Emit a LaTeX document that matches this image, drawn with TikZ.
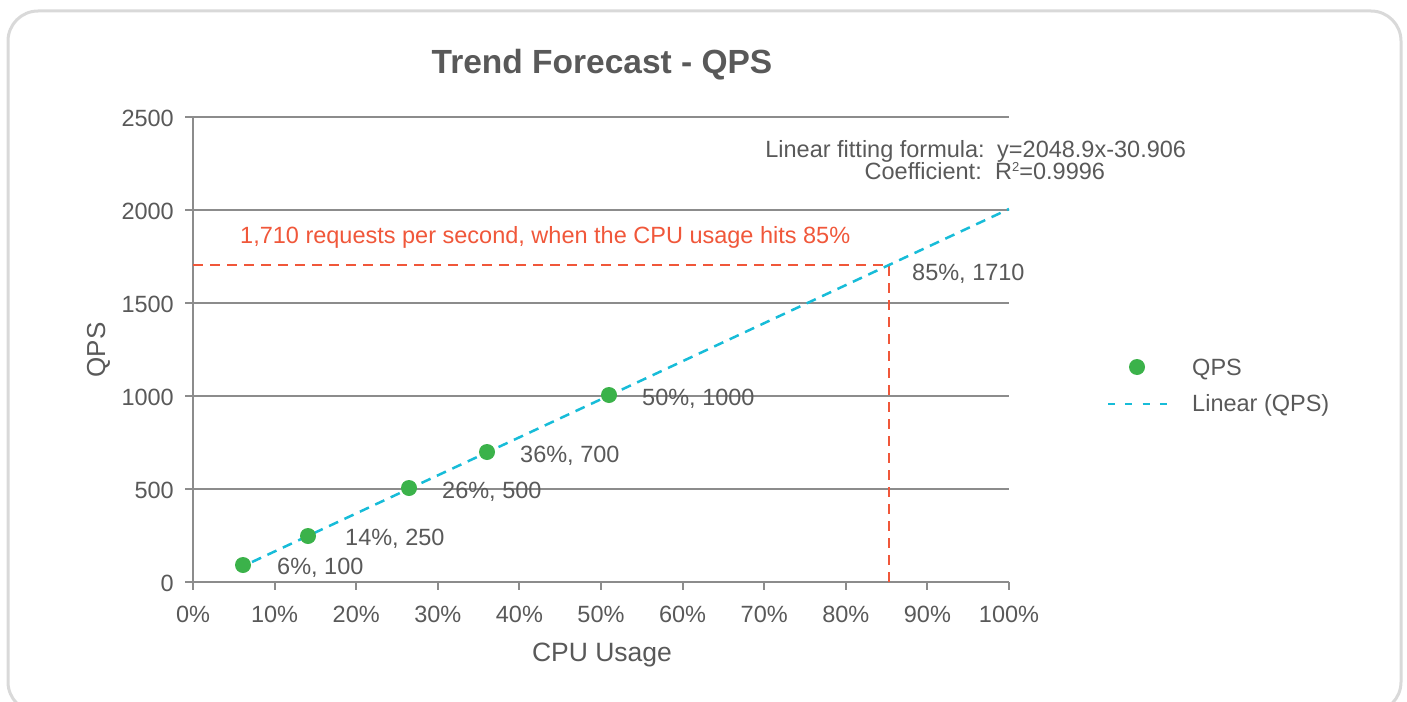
\documentclass[tikz,border=0pt]{standalone}
\usepackage{fontspec}
\setmainfont{Liberation Sans}
\definecolor{textgray}{HTML}{595959}
\definecolor{gridgray}{HTML}{8C8C8C}
\definecolor{framegray}{HTML}{D9D9D9}
\definecolor{dotgreen}{HTML}{3BB24A}
\definecolor{trendcyan}{HTML}{17BCD8}
\definecolor{guidered}{HTML}{F0573A}
\newcommand{\supdigit}[1]{\raisebox{7.5pt}{\fontsize{13}{13}\selectfont #1}}
\begin{document}
\begin{tikzpicture}[x=1pt,y=-1pt,
  txt/.style={text=textgray, font=\fontsize{23.5}{28}\selectfont, inner sep=0pt},
  gridline/.style={draw=gridgray, line width=2pt},
  dot/.style={circle, fill=dotgreen, inner sep=0pt, minimum size=16pt},
  trend/.style={draw=trendcyan, line width=2.5pt, dash pattern=on 10pt off 7pt},
  guide/.style={draw=guidered, line width=2.5pt, dash pattern=on 10pt off 7pt},
]
\useasboundingbox (0,0) rectangle (1407,701);
% frame
\draw[framegray, line width=3pt, rounded corners=30pt] (8,11) rectangle (1401,712);
% title
\node[txt, font=\fontsize{33.5}{40}\selectfont\bfseries, anchor=base] (title) at (602,74) {Trend Forecast - QPS};
% horizontal gridlines and y labels
\foreach \v/\lab in {0/0,1/500,2/1000,3/1500,4/2000,5/2500}{
  \draw[gridline] (185,582-93*\v) -- (1009,582-93*\v);
  \node[txt, anchor=base east] (y\v) at (174,591-93*\v) {\lab};
}
% y axis
\draw[gridline] (193,117) -- (193,590);
% x ticks and labels
\foreach \i [evaluate=\i as \p using int(10*\i)] in {0,...,10}{
  \draw[gridline] (193+81.6*\i,582) -- (193+81.6*\i,590);
  \node[txt, anchor=base] (x\i) at (193+81.6*\i,622) {\p\%};
}
% axis titles
\node[txt, font=\fontsize{26.5}{30}\selectfont, anchor=base] (xtitle) at (602,661) {CPU Usage};
\node[txt, font=\fontsize{26}{30}\selectfont, anchor=base, rotate=90] (ytitle) at (105,350) {QPS};
% red guide lines
\coordinate (hl) at (193,265);
\coordinate (hit) at (889,265);
\coordinate (vb) at (889,582);
\draw[guide] (hl) -- (hit) -- (vb);
% trend line
\coordinate (ts) at (252,562);
\coordinate (te) at (1009,209);
\draw[trend] (ts) -- (te);
% data points
\node[dot] (p1) at (243,565) {};
\node[dot] (p2) at (308,536) {};
\node[dot] (p3) at (409,488) {};
\node[dot] (p4) at (487,452) {};
\node[dot] (p5) at (609,395) {};
% data labels
\node[txt, anchor=base west] (l1) at (277,574) {6\%, 100};
\node[txt, anchor=base west] (l2) at (345,545) {14\%, 250};
\node[txt, anchor=base west] (l3) at (442,498) {26\%, 500};
\node[txt, anchor=base west] (l4) at (520,462) {36\%, 700};
\node[txt, anchor=base west] (l5) at (642,405) {50\%, 1000};
\node[txt, anchor=base west] (l6) at (912,280) {85\%, 1710};
% annotation
\node[txt, text=guidered, anchor=base west] (note) at (240,243) {1,710 requests per second, when the CPU usage hits 85\%};
\node[txt, anchor=base east] (f1) at (985,157) {Linear fitting formula:};
\node[txt, anchor=base west] (f2) at (997,157) {y=2048.9x-30.906};
\node[txt, anchor=base east] (c1) at (982,179) {Coefficient:};
\node[txt, anchor=base west] (c2) at (995,179) {R\supdigit{2}=0.9996};
% legend
\node[dot] (legdot) at (1137,367) {};
\node[txt, anchor=base west] (legqps) at (1192,375) {QPS};
\coordinate (la) at (1108,404);
\coordinate (lb) at (1167,404);
\draw[draw=trendcyan, line width=2.5pt, dash pattern=on 7pt off 10.3pt] (la) -- (lb);
\node[txt, anchor=base west] (leglin) at (1192,411) {Linear (QPS)};
\end{tikzpicture}
\end{document}
